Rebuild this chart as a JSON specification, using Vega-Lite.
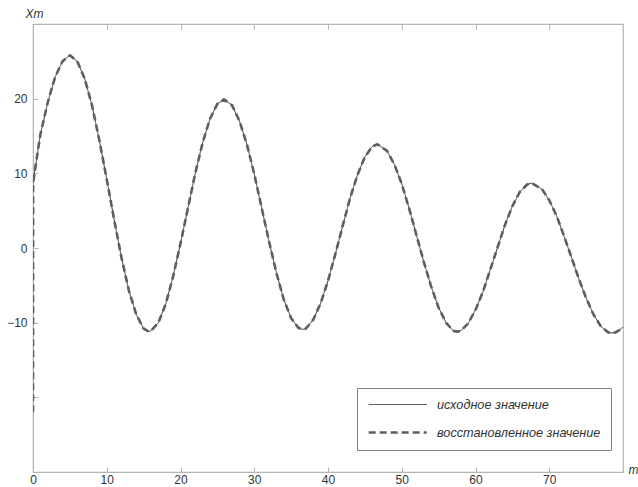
{
  "$schema": "https://vega.github.io/schema/vega-lite/v6.json",
  "width": 590,
  "height": 448,
  "autosize": "none",
  "padding": {"left": 33, "top": 24, "right": 15, "bottom": 15},
  "background": "white",
  "config": {
    "font": "Liberation Sans",
    "view": {"stroke": "#b5b5b5", "strokeWidth": 1.2},
    "axis": {
      "grid": false,
      "domainColor": "#b5b5b5",
      "tickColor": "#b5b5b5",
      "labelColor": "#333333",
      "labelFontSize": 12,
      "titleColor": "#333333",
      "titleFontSize": 12,
      "titleFontWeight": "normal",
      "titleFontStyle": "italic",
      "labelFlush": false,
      "tickSize": -5
    }
  },
  "data": {
    "values": [
      {"t": 0, "v": 8.7, "s": "исходное значение"},
      {"t": 0.5, "v": 12.0, "s": "исходное значение"},
      {"t": 1, "v": 15.2, "s": "исходное значение"},
      {"t": 2, "v": 19.5, "s": "исходное значение"},
      {"t": 3, "v": 22.9, "s": "исходное значение"},
      {"t": 4, "v": 25.0, "s": "исходное значение"},
      {"t": 5, "v": 25.8, "s": "исходное значение"},
      {"t": 6, "v": 25.0, "s": "исходное значение"},
      {"t": 7, "v": 22.7, "s": "исходное значение"},
      {"t": 8, "v": 19.1, "s": "исходное значение"},
      {"t": 9, "v": 14.4, "s": "исходное значение"},
      {"t": 10, "v": 9.2, "s": "исходное значение"},
      {"t": 11, "v": 3.8, "s": "исходное значение"},
      {"t": 12, "v": -1.3, "s": "исходное значение"},
      {"t": 13, "v": -5.7, "s": "исходное значение"},
      {"t": 14, "v": -8.9, "s": "исходное значение"},
      {"t": 15, "v": -10.8, "s": "исходное значение"},
      {"t": 15.7, "v": -11.2, "s": "исходное значение"},
      {"t": 16, "v": -11.1, "s": "исходное значение"},
      {"t": 17, "v": -10.0, "s": "исходное значение"},
      {"t": 18, "v": -7.5, "s": "исходное значение"},
      {"t": 19, "v": -3.8, "s": "исходное значение"},
      {"t": 20, "v": 0.6, "s": "исходное значение"},
      {"t": 21, "v": 5.3, "s": "исходное значение"},
      {"t": 22, "v": 10.0, "s": "исходное значение"},
      {"t": 23, "v": 14.1, "s": "исходное значение"},
      {"t": 24, "v": 17.3, "s": "исходное значение"},
      {"t": 25, "v": 19.3, "s": "исходное значение"},
      {"t": 25.9, "v": 19.9, "s": "исходное значение"},
      {"t": 27, "v": 19.1, "s": "исходное значение"},
      {"t": 28, "v": 17.0, "s": "исходное значение"},
      {"t": 29, "v": 13.9, "s": "исходное значение"},
      {"t": 30, "v": 9.9, "s": "исходное значение"},
      {"t": 31, "v": 5.4, "s": "исходное значение"},
      {"t": 32, "v": 0.9, "s": "исходное значение"},
      {"t": 33, "v": -3.3, "s": "исходное значение"},
      {"t": 34, "v": -6.9, "s": "исходное значение"},
      {"t": 35, "v": -9.4, "s": "исходное значение"},
      {"t": 36, "v": -10.7, "s": "исходное значение"},
      {"t": 36.5, "v": -10.9, "s": "исходное значение"},
      {"t": 37, "v": -10.8, "s": "исходное значение"},
      {"t": 38, "v": -9.6, "s": "исходное значение"},
      {"t": 39, "v": -7.4, "s": "исходное значение"},
      {"t": 40, "v": -4.4, "s": "исходное значение"},
      {"t": 41, "v": -0.8, "s": "исходное значение"},
      {"t": 42, "v": 3.0, "s": "исходное значение"},
      {"t": 43, "v": 6.7, "s": "исходное значение"},
      {"t": 44, "v": 9.8, "s": "исходное значение"},
      {"t": 45, "v": 12.2, "s": "исходное значение"},
      {"t": 46, "v": 13.6, "s": "исходное значение"},
      {"t": 46.7, "v": 13.9, "s": "исходное значение"},
      {"t": 48, "v": 13.0, "s": "исходное значение"},
      {"t": 49, "v": 11.2, "s": "исходное значение"},
      {"t": 50, "v": 8.6, "s": "исходное значение"},
      {"t": 51, "v": 5.3, "s": "исходное значение"},
      {"t": 52, "v": 1.7, "s": "исходное значение"},
      {"t": 53, "v": -1.9, "s": "исходное значение"},
      {"t": 54, "v": -5.2, "s": "исходное значение"},
      {"t": 55, "v": -8.0, "s": "исходное значение"},
      {"t": 56, "v": -10.0, "s": "исходное значение"},
      {"t": 57, "v": -11.1, "s": "исходное значение"},
      {"t": 57.5, "v": -11.2, "s": "исходное значение"},
      {"t": 58, "v": -11.1, "s": "исходное значение"},
      {"t": 59, "v": -10.1, "s": "исходное значение"},
      {"t": 60, "v": -8.3, "s": "исходное значение"},
      {"t": 61, "v": -5.9, "s": "исходное значение"},
      {"t": 62, "v": -2.9, "s": "исходное значение"},
      {"t": 63, "v": 0.1, "s": "исходное значение"},
      {"t": 64, "v": 3.1, "s": "исходное значение"},
      {"t": 65, "v": 5.6, "s": "исходное значение"},
      {"t": 66, "v": 7.5, "s": "исходное значение"},
      {"t": 67, "v": 8.5, "s": "исходное значение"},
      {"t": 67.6, "v": 8.7, "s": "исходное значение"},
      {"t": 69, "v": 7.9, "s": "исходное значение"},
      {"t": 70, "v": 6.4, "s": "исходное значение"},
      {"t": 71, "v": 4.3, "s": "исходное значение"},
      {"t": 72, "v": 1.6, "s": "исходное значение"},
      {"t": 73, "v": -1.2, "s": "исходное значение"},
      {"t": 74, "v": -4.1, "s": "исходное значение"},
      {"t": 75, "v": -6.7, "s": "исходное значение"},
      {"t": 76, "v": -8.9, "s": "исходное значение"},
      {"t": 77, "v": -10.5, "s": "исходное значение"},
      {"t": 78, "v": -11.3, "s": "исходное значение"},
      {"t": 78.5, "v": -11.4, "s": "исходное значение"},
      {"t": 79, "v": -11.3, "s": "исходное значение"},
      {"t": 79.5, "v": -11.0, "s": "исходное значение"},
      {"t": 80, "v": -10.6, "s": "исходное значение"},
      {"t": 0, "v": -22.0, "s": "восстановленное значение"},
      {"t": 0.02, "v": 8.7, "s": "восстановленное значение"},
      {"t": 0.5, "v": 12.0, "s": "восстановленное значение"},
      {"t": 1, "v": 15.2, "s": "восстановленное значение"},
      {"t": 2, "v": 19.5, "s": "восстановленное значение"},
      {"t": 3, "v": 22.9, "s": "восстановленное значение"},
      {"t": 4, "v": 25.0, "s": "восстановленное значение"},
      {"t": 5, "v": 25.8, "s": "восстановленное значение"},
      {"t": 6, "v": 25.0, "s": "восстановленное значение"},
      {"t": 7, "v": 22.7, "s": "восстановленное значение"},
      {"t": 8, "v": 19.1, "s": "восстановленное значение"},
      {"t": 9, "v": 14.4, "s": "восстановленное значение"},
      {"t": 10, "v": 9.2, "s": "восстановленное значение"},
      {"t": 11, "v": 3.8, "s": "восстановленное значение"},
      {"t": 12, "v": -1.3, "s": "восстановленное значение"},
      {"t": 13, "v": -5.7, "s": "восстановленное значение"},
      {"t": 14, "v": -8.9, "s": "восстановленное значение"},
      {"t": 15, "v": -10.8, "s": "восстановленное значение"},
      {"t": 15.7, "v": -11.2, "s": "восстановленное значение"},
      {"t": 16, "v": -11.1, "s": "восстановленное значение"},
      {"t": 17, "v": -10.0, "s": "восстановленное значение"},
      {"t": 18, "v": -7.5, "s": "восстановленное значение"},
      {"t": 19, "v": -3.8, "s": "восстановленное значение"},
      {"t": 20, "v": 0.6, "s": "восстановленное значение"},
      {"t": 21, "v": 5.3, "s": "восстановленное значение"},
      {"t": 22, "v": 10.0, "s": "восстановленное значение"},
      {"t": 23, "v": 14.1, "s": "восстановленное значение"},
      {"t": 24, "v": 17.3, "s": "восстановленное значение"},
      {"t": 25, "v": 19.3, "s": "восстановленное значение"},
      {"t": 25.9, "v": 19.9, "s": "восстановленное значение"},
      {"t": 27, "v": 19.1, "s": "восстановленное значение"},
      {"t": 28, "v": 17.0, "s": "восстановленное значение"},
      {"t": 29, "v": 13.9, "s": "восстановленное значение"},
      {"t": 30, "v": 9.9, "s": "восстановленное значение"},
      {"t": 31, "v": 5.4, "s": "восстановленное значение"},
      {"t": 32, "v": 0.9, "s": "восстановленное значение"},
      {"t": 33, "v": -3.3, "s": "восстановленное значение"},
      {"t": 34, "v": -6.9, "s": "восстановленное значение"},
      {"t": 35, "v": -9.4, "s": "восстановленное значение"},
      {"t": 36, "v": -10.7, "s": "восстановленное значение"},
      {"t": 36.5, "v": -10.9, "s": "восстановленное значение"},
      {"t": 37, "v": -10.8, "s": "восстановленное значение"},
      {"t": 38, "v": -9.6, "s": "восстановленное значение"},
      {"t": 39, "v": -7.4, "s": "восстановленное значение"},
      {"t": 40, "v": -4.4, "s": "восстановленное значение"},
      {"t": 41, "v": -0.8, "s": "восстановленное значение"},
      {"t": 42, "v": 3.0, "s": "восстановленное значение"},
      {"t": 43, "v": 6.7, "s": "восстановленное значение"},
      {"t": 44, "v": 9.8, "s": "восстановленное значение"},
      {"t": 45, "v": 12.2, "s": "восстановленное значение"},
      {"t": 46, "v": 13.6, "s": "восстановленное значение"},
      {"t": 46.7, "v": 13.9, "s": "восстановленное значение"},
      {"t": 48, "v": 13.0, "s": "восстановленное значение"},
      {"t": 49, "v": 11.2, "s": "восстановленное значение"},
      {"t": 50, "v": 8.6, "s": "восстановленное значение"},
      {"t": 51, "v": 5.3, "s": "восстановленное значение"},
      {"t": 52, "v": 1.7, "s": "восстановленное значение"},
      {"t": 53, "v": -1.9, "s": "восстановленное значение"},
      {"t": 54, "v": -5.2, "s": "восстановленное значение"},
      {"t": 55, "v": -8.0, "s": "восстановленное значение"},
      {"t": 56, "v": -10.0, "s": "восстановленное значение"},
      {"t": 57, "v": -11.1, "s": "восстановленное значение"},
      {"t": 57.5, "v": -11.2, "s": "восстановленное значение"},
      {"t": 58, "v": -11.1, "s": "восстановленное значение"},
      {"t": 59, "v": -10.1, "s": "восстановленное значение"},
      {"t": 60, "v": -8.3, "s": "восстановленное значение"},
      {"t": 61, "v": -5.9, "s": "восстановленное значение"},
      {"t": 62, "v": -2.9, "s": "восстановленное значение"},
      {"t": 63, "v": 0.1, "s": "восстановленное значение"},
      {"t": 64, "v": 3.1, "s": "восстановленное значение"},
      {"t": 65, "v": 5.6, "s": "восстановленное значение"},
      {"t": 66, "v": 7.5, "s": "восстановленное значение"},
      {"t": 67, "v": 8.5, "s": "восстановленное значение"},
      {"t": 67.6, "v": 8.7, "s": "восстановленное значение"},
      {"t": 69, "v": 7.9, "s": "восстановленное значение"},
      {"t": 70, "v": 6.4, "s": "восстановленное значение"},
      {"t": 71, "v": 4.3, "s": "восстановленное значение"},
      {"t": 72, "v": 1.6, "s": "восстановленное значение"},
      {"t": 73, "v": -1.2, "s": "восстановленное значение"},
      {"t": 74, "v": -4.1, "s": "восстановленное значение"},
      {"t": 75, "v": -6.7, "s": "восстановленное значение"},
      {"t": 76, "v": -8.9, "s": "восстановленное значение"},
      {"t": 77, "v": -10.5, "s": "восстановленное значение"},
      {"t": 78, "v": -11.3, "s": "восстановленное значение"},
      {"t": 78.5, "v": -11.4, "s": "восстановленное значение"},
      {"t": 79, "v": -11.3, "s": "восстановленное значение"},
      {"t": 79.5, "v": -11.0, "s": "восстановленное значение"},
      {"t": 80, "v": -10.6, "s": "восстановленное значение"}
    ]
  },
  "layer": [
    {
      "mark": {"type": "line", "strokeCap": "butt", "strokeJoin": "round", "clip": true},
      "encoding": {
        "x": {
          "field": "t",
          "type": "quantitative",
          "scale": {"domain": [0, 80], "nice": false, "zero": false},
          "axis": {
            "values": [0, 10, 20, 30, 40, 50, 60, 70],
            "title": "m",
            "titleX": 595,
            "titleY": -3,
            "titleAlign": "left",
            "titleBaseline": "middle",
            "labelPadding": 7
          }
        },
        "y": {
          "field": "v",
          "type": "quantitative",
          "scale": {"domain": [-30, 30], "nice": false, "zero": false},
          "axis": {
            "values": [-20, -10, 0, 10, 20],
            "labelExpr": "datum.value == -20 ? '' : datum.label",
            "title": "Xm",
            "titleAngle": 0,
            "titleX": -8,
            "titleY": -11,
            "titleAlign": "left",
            "titleBaseline": "middle",
            "labelPadding": 11
          }
        },
        "color": {
          "field": "s",
          "type": "nominal",
          "scale": {"domain": ["исходное значение", "восстановленное значение"], "range": ["#333333", "#5e5e5e"]},
          "legend": {
            "orient": "none",
            "legendX": 324,
            "legendY": 364,
            "title": null,
            "symbolType": "M-1,0H9",
            "symbolSize": 135,
            "labelFontStyle": "italic",
            "labelFontSize": 12.7,
            "labelLimit": 300,
            "labelColor": "#333333",
            "labelOffset": 55,
            "strokeColor": "#808080",
            "fillColor": "white",
            "padding": 10,
            "rowPadding": 13
          }
        },
        "strokeDash": {
          "field": "s",
          "type": "nominal",
          "scale": {"domain": ["исходное значение", "восстановленное значение"], "range": [[1, 0], [7, 4]]}
        },
        "strokeWidth": {
          "field": "s",
          "type": "ordinal",
          "scale": {"domain": ["исходное значение", "восстановленное значение"], "range": [1, 2.6]}
        }
      }
    },
    {
      "mark": {"type": "rule", "opacity": 0},
      "encoding": {
        "x": {
          "field": "t",
          "type": "quantitative",
          "axis": {
            "orient": "top",
            "values": [10, 20, 30, 40, 50, 60, 70],
            "labels": false,
            "domain": false,
            "title": null
          }
        }
      }
    }
  ],
  "resolve": {"axis": {"x": "independent"}}
}
